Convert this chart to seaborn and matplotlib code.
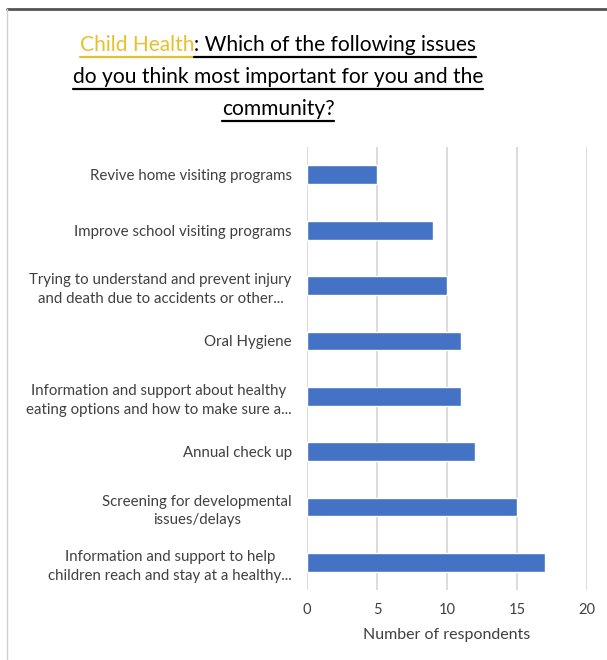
import matplotlib
matplotlib.use("Agg")
import matplotlib.pyplot as plt
from matplotlib.lines import Line2D
import seaborn as sns
import pandas as pd

issues = [
    "Revive home visiting programs",
    "Improve school visiting programs",
    "Trying to understand and prevent injury\nand death due to accidents or other...",
    "Oral Hygiene",
    "Information and support about healthy\neating options and how to make sure a...",
    "Annual check up",
    "Screening for developmental\nissues/delays",
    "Information and support to help\nchildren reach and stay at a healthy...",
]
respondents = [5, 9, 10, 11, 11, 12, 15, 17]
x_ticks = [0, 5, 10, 15, 20]

title_lead = "Child Health"
title_lines = [
    ": Which of the following issues",
    "do you think most important for you and the",
    "community?",
]

df = pd.DataFrame({"issue": issues, "count": respondents})

sns.set_theme(style="white")
plt.rcParams["font.family"] = ["Lato", "DejaVu Sans"]

fig = plt.figure(figsize=(6.07, 6.60), dpi=100)
ax = fig.add_axes([0.5058, 0.106, 0.461, 0.671])

sns.barplot(data=df, x="count", y="issue", orient="h", color="#4472C4",
            saturation=1, width=0.34, ax=ax)

ax.set_xlim(0, 20)
ax.set_ylim(7.5, -0.5)
ax.set_xticks(x_ticks)
ax.set_xticklabels([str(t) for t in x_ticks])
ax.grid(axis="x", color="#d9d9d9", linewidth=1.3)
ax.set_axisbelow(True)
for s in ax.spines.values():
    s.set_visible(False)
ax.tick_params(axis="both", length=0, colors="#404040")
ax.tick_params(axis="x", pad=9, labelsize=10.5)
ax.tick_params(axis="y", pad=11, labelsize=10.8)
for lbl in ax.get_yticklabels():
    lbl.set_multialignment("center")
    lbl.set_linespacing(1.45)
ax.set_ylabel("")
ax.set_xlabel("Number of respondents", fontsize=11.5, color="#404040", labelpad=8)

# Title with underlines
title_fs = 15.1
renderer = fig.canvas.get_renderer()
gold = "#E6C12E"
line_y = [45, 77, 109]
H = 660.0
W = 607.0
cx = 278.0

t_lead = fig.text(0, 1 - line_y[0] / H, title_lead, fontsize=title_fs,
                  color=gold, va="center", ha="left")
t_rest = fig.text(0, 1 - line_y[0] / H, title_lines[0], fontsize=title_fs,
                  color="black", va="center", ha="left")
w_lead = t_lead.get_window_extent(renderer).width
w_rest = t_rest.get_window_extent(renderer).width
x0 = cx - (w_lead + w_rest) / 2
t_lead.set_x(x0 / W)
t_rest.set_x((x0 + w_lead) / W)

def underline(x_start, x_end, y_px, color):
    fig.add_artist(Line2D([x_start / W, x_end / W], [1 - y_px / H, 1 - y_px / H],
                          transform=fig.transFigure, color=color, linewidth=1.6))

underline(x0, x0 + w_lead, line_y[0] + 12, gold)
underline(x0 + w_lead, x0 + w_lead + w_rest, line_y[0] + 12, "black")

for txt, yp in zip(title_lines[1:], line_y[1:]):
    t = fig.text(cx / W, 1 - yp / H, txt, fontsize=title_fs, color="black",
                 va="center", ha="center")
    w = t.get_window_extent(renderer).width
    underline(cx - w / 2, cx + w / 2, yp + 12, "black")

# Frame
fig.add_artist(Line2D([7 / W, 1], [1 - 9 / H, 1 - 9 / H], transform=fig.transFigure,
                      color="#555555", linewidth=2))
fig.add_artist(Line2D([7 / W, 7 / W], [0, 1 - 9 / H], transform=fig.transFigure,
                      color="#d0d0d0", linewidth=1))

fig.savefig("out.png", dpi=100, facecolor="white")
